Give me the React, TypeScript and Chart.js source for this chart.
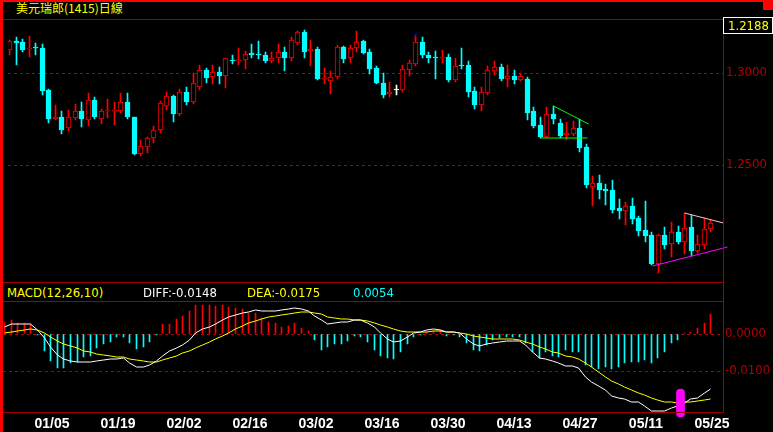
import React, { useEffect, useRef } from 'react';
import { Chart, registerables } from 'chart.js';
Chart.register(...registerables);

// ---------- data ----------
const dates = [
  '12/25','12/26','12/29','12/30','12/31',
  '01/01','01/02','01/05','01/06','01/07','01/08','01/09','01/12','01/13','01/14','01/15','01/16','01/19','01/20','01/21','01/22','01/23','01/26','01/27','01/28','01/29','01/30',
  '02/02','02/03','02/04','02/05','02/06','02/09','02/10','02/11','02/12','02/13','02/16','02/17','02/18','02/19','02/20','02/23','02/24','02/25','02/26','02/27',
  '03/02','03/03','03/04','03/05','03/06','03/09','03/10','03/11','03/12','03/13','03/16','03/17','03/18','03/19','03/20','03/23','03/24','03/25','03/26','03/27','03/30','03/31',
  '04/01','04/02','04/03','04/06','04/07','04/08','04/09','04/10','04/13','04/14','04/15','04/16','04/17','04/20','04/21','04/22','04/23','04/24','04/27','04/28','04/29','04/30',
  '05/01','05/04','05/05','05/06','05/07','05/08','05/11','05/12','05/13','05/14','05/15','05/18','05/19','05/20','05/21','05/22','05/25',
];
const tickDates = ['01/05','01/19','02/02','02/16','03/02','03/16','03/30','04/13','04/27','05/11','05/25'];
const priceTicks = [1.25, 1.3];
const macdTicks = [-0.01, 0];

const openP = [
  1.3125,1.3172,1.3167,1.3130,1.3141,1.3135,1.2906,1.2750,1.2760,1.2703,
  1.2755,1.2797,1.2745,1.2854,1.2750,1.2792,1.2797,1.2797,1.2844,1.2760,
  1.2563,1.2599,1.2646,1.2693,1.2823,1.2875,1.2776,1.2896,1.2844,1.2927,
  1.3016,1.2979,1.3005,1.2984,1.3073,1.3063,1.3068,1.3109,1.3104,1.3099,
  1.3063,1.3083,1.3115,1.3083,1.3161,1.3224,1.3120,1.3130,1.2969,1.2958,
  1.2979,1.3141,1.3083,1.3135,1.3172,1.3115,1.3026,1.2948,1.2885,1.2906,
  1.2906,1.3016,1.3047,1.3167,1.3099,1.3089,1.3083,1.3089,1.2964,1.3042,
  1.3042,1.2901,1.2828,1.2891,1.3010,1.3031,1.2969,1.2984,1.2964,1.2969,
  1.2792,1.2719,1.2656,1.2776,1.2729,1.2667,1.2672,1.2703,1.2599,1.2385,
  1.2406,1.2370,1.2365,1.2271,1.2255,1.2281,1.2214,1.2151,1.2125,1.1964,
  1.2125,1.2073,1.2141,1.2083,1.2167,1.2036,1.2068,1.2156,
];
const highP = [
  1.3177,1.3193,1.3182,1.3203,1.3161,1.3156,1.2911,1.2828,1.2792,1.2802,
  1.2833,1.2844,1.2891,1.2870,1.2807,1.2859,1.2844,1.2891,1.2891,1.2760,
  1.2635,1.2656,1.2714,1.2849,1.2896,1.2880,1.2911,1.2922,1.3000,1.3042,
  1.3026,1.3042,1.3031,1.3083,1.3099,1.3135,1.3120,1.3156,1.3172,1.3115,
  1.3115,1.3156,1.3141,1.3193,1.3229,1.3234,1.3177,1.3141,1.3026,1.3010,
  1.3151,1.3146,1.3151,1.3229,1.3177,1.3130,1.3036,1.3000,1.2953,1.2938,
  1.3042,1.3068,1.3198,1.3193,1.3115,1.3120,1.3125,1.3104,1.3083,1.3135,
  1.3063,1.2922,1.2927,1.3036,1.3063,1.3047,1.3042,1.3016,1.3000,1.2979,
  1.2818,1.2760,1.2818,1.2823,1.2750,1.2734,1.2740,1.2750,1.2615,1.2443,
  1.2448,1.2401,1.2422,1.2318,1.2302,1.2323,1.2224,1.2307,1.2141,1.2130,
  1.2167,1.2193,1.2172,1.2245,1.2234,1.2125,1.2214,1.2203,
];
const lowP = [
  1.3099,1.3042,1.3115,1.3089,1.3099,1.2880,1.2729,1.2745,1.2672,1.2688,
  1.2745,1.2708,1.2714,1.2750,1.2724,1.2755,1.2719,1.2786,1.2750,1.2557,
  1.2552,1.2568,1.2620,1.2677,1.2802,1.2734,1.2766,1.2828,1.2833,1.2906,
  1.2948,1.2943,1.2943,1.2917,1.3047,1.3042,1.3021,1.3083,1.3078,1.3052,
  1.3057,1.3057,1.3010,1.3063,1.3151,1.3083,1.3036,1.2964,1.2943,1.2885,
  1.2969,1.3057,1.3057,1.3115,1.3104,1.2995,1.2943,1.2865,1.2870,1.2880,
  1.2896,1.2984,1.3036,1.3083,1.3057,1.2969,1.3057,1.2953,1.2953,1.3021,
  1.2870,1.2807,1.2797,1.2880,1.2990,1.2958,1.2927,1.2943,1.2958,1.2745,
  1.2703,1.2651,1.2651,1.2724,1.2651,1.2635,1.2661,1.2573,1.2380,1.2281,
  1.2318,1.2286,1.2245,1.2208,1.2177,1.2182,1.2120,1.2083,1.1959,1.1917,
  1.2047,1.2005,1.2073,1.2021,1.2010,1.2026,1.2047,1.2141,
];
const closeP = [
  1.3172,1.3161,1.3125,1.3135,1.3135,1.2901,1.2750,1.2760,1.2693,1.2760,
  1.2797,1.2750,1.2854,1.2760,1.2792,1.2802,1.2802,1.2844,1.2760,1.2563,
  1.2604,1.2646,1.2693,1.2839,1.2875,1.2776,1.2896,1.2844,1.2948,1.3016,
  1.2974,1.3005,1.2984,1.3083,1.3063,1.3073,1.3104,1.3099,1.3099,1.3063,
  1.3083,1.3115,1.3083,1.3177,1.3224,1.3115,1.3130,1.2969,1.2974,1.2979,
  1.3141,1.3078,1.3135,1.3167,1.3109,1.3021,1.2948,1.2880,1.2896,1.2906,
  1.3021,1.3052,1.3167,1.3099,1.3083,1.3083,1.3089,1.2964,1.3036,1.3036,
  1.2896,1.2828,1.2896,1.3016,1.3031,1.2969,1.2984,1.2964,1.2984,1.2786,
  1.2714,1.2656,1.2776,1.2750,1.2661,1.2677,1.2703,1.2594,1.2396,1.2406,
  1.2365,1.2359,1.2260,1.2255,1.2281,1.2208,1.2146,1.2120,1.1964,1.2125,
  1.2068,1.2141,1.2083,1.2161,1.2036,1.2073,1.2156,1.2188,
];

const diffV = [
  0.0020,0.0026,0.0028,0.0028,0.0028,0.0011,-0.0012,-0.0034,-0.0057,-0.0068,
  -0.0072,-0.0075,-0.0076,-0.0075,-0.0073,-0.0071,-0.0068,-0.0067,-0.0065,-0.0079,
  -0.0088,-0.0090,-0.0085,-0.0072,-0.0059,-0.0045,-0.0037,-0.0030,-0.0016,0.0004,
  0.0013,0.0020,0.0028,0.0038,0.0045,0.0051,0.0058,0.0060,0.0064,0.0063,
  0.0063,0.0063,0.0064,0.0068,0.0071,0.0067,0.0063,0.0049,0.0038,0.0027,
  0.0031,0.0032,0.0033,0.0038,0.0038,0.0031,0.0018,0.0002,-0.0014,-0.0021,
  -0.0019,-0.0007,0.0002,0.0006,0.0011,0.0013,0.0011,0.0006,0.0005,0.0002,
  -0.0014,-0.0027,-0.0032,-0.0027,-0.0023,-0.0021,-0.0020,-0.0019,-0.0019,-0.0030,
  -0.0048,-0.0066,-0.0068,-0.0072,-0.0079,-0.0086,-0.0086,-0.0093,-0.0115,-0.0129,
  -0.0141,-0.0151,-0.0167,-0.0174,-0.0176,-0.0183,-0.0184,-0.0195,-0.0207,-0.0207,
  -0.0207,-0.0199,-0.0194,-0.0187,-0.0176,-0.0174,-0.0160,-0.0148,
];
const deaV = [
  0.0002,0.0005,0.0009,0.0011,0.0013,0.0011,0.0002,-0.0007,-0.0018,-0.0027,
  -0.0032,-0.0039,-0.0045,-0.0048,-0.0054,-0.0057,-0.0059,-0.0061,-0.0063,-0.0067,
  -0.0070,-0.0073,-0.0076,-0.0075,-0.0070,-0.0066,-0.0059,-0.0052,-0.0045,-0.0037,
  -0.0030,-0.0021,-0.0014,-0.0005,0.0004,0.0013,0.0022,0.0029,0.0035,0.0040,
  0.0045,0.0049,0.0050,0.0054,0.0058,0.0059,0.0059,0.0058,0.0054,0.0047,
  0.0044,0.0041,0.0040,0.0039,0.0038,0.0034,0.0031,0.0024,0.0018,0.0013,
  0.0009,0.0006,0.0005,0.0005,0.0006,0.0007,0.0007,0.0006,0.0005,0.0004,
  0.0000,-0.0005,-0.0009,-0.0012,-0.0014,-0.0014,-0.0014,-0.0014,-0.0016,-0.0021,
  -0.0027,-0.0034,-0.0041,-0.0048,-0.0052,-0.0059,-0.0063,-0.0068,-0.0079,-0.0090,
  -0.0102,-0.0115,-0.0127,-0.0136,-0.0144,-0.0151,-0.0159,-0.0166,-0.0174,-0.0178,
  -0.0183,-0.0185,-0.0186,-0.0184,-0.0183,-0.0180,-0.0178,-0.0175,
];
const histV = [
  0.0032,0.0038,0.0031,0.0031,0.0027,-0.0003,-0.0047,-0.0073,-0.0091,-0.0091,
  -0.0079,-0.0077,-0.0063,-0.0059,-0.0039,-0.0027,-0.0021,-0.0009,-0.0007,-0.0025,
  -0.0041,-0.0034,-0.0022,-0.0002,0.0026,0.0026,0.0040,0.0049,0.0062,0.0078,
  0.0078,0.0078,0.0076,0.0078,0.0074,0.0069,0.0067,0.0058,0.0056,0.0042,
  0.0033,0.0031,0.0020,0.0022,0.0031,0.0015,0.0009,-0.0016,-0.0043,-0.0034,
  -0.0028,-0.0027,-0.0019,-0.0005,-0.0009,-0.0021,-0.0043,-0.0059,-0.0064,-0.0067,
  -0.0048,-0.0028,-0.0007,-0.0003,0.0006,0.0009,0.0011,-0.0005,-0.0004,-0.0009,
  -0.0025,-0.0043,-0.0045,-0.0030,-0.0016,-0.0012,-0.0009,-0.0007,-0.0007,-0.0025,
  -0.0048,-0.0066,-0.0048,-0.0059,-0.0061,-0.0043,-0.0050,-0.0050,-0.0084,-0.0090,
  -0.0095,-0.0090,-0.0095,-0.0090,-0.0079,-0.0075,-0.0075,-0.0070,-0.0079,-0.0066,
  -0.0048,-0.0025,-0.0016,0.0004,0.0006,0.0015,0.0031,0.0054,
];

// drawn trend lines (index, price)
const greenSlopeLine = [{ x: 82.93, y: 1.2821 }, { x: 88.29, y: 1.2726 }];
const greenFlatLine = [{ x: 81.06, y: 1.2647 }, { x: 88.18, y: 1.2647 }];
const pinkLine = [{ x: 102.93, y: 1.2243 }, { x: 108.99, y: 1.2186 }];
const magentaLine = [{ x: 98.14, y: 1.1957 }, { x: 109.5, y: 1.2056 }];
const blueMark = [{ x: 62, y: 1.3208 }];
// MACD cross marker (index, value range)
const crossMark = [{ x: 102.5, y: [-0.0224, -0.0149] }];

// ---------- styling ----------
const RED = '#ff0000';
const CYAN = '#00ffff';
const WHITE = '#ffffff';
const FRAME = '#a00000';
const GRID = '#b00000';
const NARROW = '"Liberation Sans Narrow", "Arial Narrow", "DejaVu Sans Condensed", "Liberation Sans", sans-serif';
const X_MIN = -0.15;
const X_MAX = 108.94;

// shift dataset drawing by half a pixel so 1px bars land on whole pixels
const crispPlugin = {
  id: 'crisp',
  beforeDatasetsDraw(chart: any) {
    chart.ctx.save();
    chart.ctx.translate(0.5, 0);
  },
  afterDatasetsDraw(chart: any) {
    chart.ctx.restore();
  },
};

export default function App() {
  const refA = useRef<HTMLCanvasElement>(null);
  const refB = useRef<HTMLCanvasElement>(null);

  useEffect(() => {
    document.body.style.margin = '0';
    document.body.style.background = '#000';
    const idx = openP.map((_, i) => i);
    const cColor = idx.map((i) => (closeP[i] > openP[i] ? RED : closeP[i] < openP[i] ? CYAN : WHITE));
    const cFill = idx.map((i) => (closeP[i] > openP[i] ? '#000000' : cColor[i]));

    const fitY = (s: any) => {
      s.width = 50;
      s.paddingTop = 0;
      s.paddingBottom = 0;
    };

    const priceChart = new Chart(refA.current as HTMLCanvasElement, {
      type: 'bar',
      plugins: [crispPlugin],
      data: {
        datasets: [
          { type: 'line', data: greenSlopeLine, borderColor: '#00ff00', borderWidth: 1, pointRadius: 0, order: 0, clip: false } as any,
          { type: 'line', data: greenFlatLine, borderColor: '#00ff00', borderWidth: 1, pointRadius: 0, order: 0, clip: false } as any,
          { type: 'line', data: pinkLine, borderColor: '#ffc4c4', borderWidth: 1, pointRadius: 0, order: 0, clip: false } as any,
          { type: 'line', data: magentaLine, borderColor: '#ff00ff', borderWidth: 1, pointRadius: 0, order: 0, clip: false } as any,
          { type: 'line', data: blueMark, showLine: false, pointRadius: 1, pointStyle: 'rect', backgroundColor: '#0000ff', borderColor: '#0000ff', order: 0 } as any,
          {
            data: idx.map((i) => ({ x: i, y: [openP[i], closeP[i]] })),
            backgroundColor: cFill,
            borderColor: cColor,
            borderWidth: 1,
            borderSkipped: false,
            barThickness: 5,
            minBarLength: 1,
            grouped: false,
            order: 1,
          } as any,
          {
            data: idx.map((i) => ({ x: i, y: [lowP[i], highP[i]] })),
            backgroundColor: cColor,
            borderWidth: 0,
            barThickness: 1,
            grouped: false,
            order: 2,
          } as any,
        ],
      },
      options: {
        responsive: false,
        maintainAspectRatio: false,
        animation: false,
        devicePixelRatio: 1,
        events: [],
        layout: { padding: 0 },
        plugins: { legend: { display: false }, tooltip: { enabled: false } },
        scales: {
          x: { type: 'linear', min: X_MIN, max: X_MAX, offset: false, alignToPixels: true, display: false, grid: { display: false } },
          y: {
            type: 'linear',
            position: 'right',
            min: 1.18958,
            max: 1.32656,
            alignToPixels: true,
            afterBuildTicks: (s: any) => { s.ticks = priceTicks.map((v) => ({ value: v })); },
            afterFit: fitY,
            ticks: { color: GRID, font: { family: NARROW, size: 13 }, padding: 3, callback: (v: any) => Number(v).toFixed(4) },
            grid: { color: GRID, lineWidth: 1, drawTicks: false },
            border: { display: false, dash: [3, 3] },
          },
        },
      } as any,
    });

    const macdChart = new Chart(refB.current as HTMLCanvasElement, {
      type: 'bar',
      plugins: [crispPlugin],
      data: {
        datasets: [
          {
            data: crossMark,
            backgroundColor: '#ff00ff',
            borderWidth: 0,
            barThickness: 8,
            borderRadius: 4,
            borderSkipped: false,
            grouped: false,
            clip: false,
            order: 0,
          } as any,
          { type: 'line', data: idx.map((i) => ({ x: i, y: diffV[i] })), borderColor: WHITE, borderWidth: 1, pointRadius: 0, tension: 0, order: 1 } as any,
          { type: 'line', data: idx.map((i) => ({ x: i, y: deaV[i] })), borderColor: '#ffff00', borderWidth: 1, pointRadius: 0, tension: 0, order: 2 } as any,
          {
            data: idx.map((i) => ({ x: i, y: histV[i] })),
            backgroundColor: idx.map((i) => (histV[i] >= 0 ? RED : CYAN)),
            borderWidth: 0,
            barThickness: 1,
            grouped: false,
            order: 3,
          } as any,
        ],
      },
      options: {
        responsive: false,
        maintainAspectRatio: false,
        animation: false,
        devicePixelRatio: 1,
        events: [],
        layout: { padding: 0 },
        plugins: { legend: { display: false }, tooltip: { enabled: false } },
        scales: {
          x: {
            type: 'linear',
            min: X_MIN,
            max: X_MAX,
            offset: false,
            alignToPixels: true,
            afterBuildTicks: (s: any) => { s.ticks = tickDates.map((d) => ({ value: dates.indexOf(d) })); },
            afterFit: (s: any) => { s.height = 20; s.paddingLeft = 0; s.paddingRight = 0; },
            ticks: {
              color: WHITE,
              font: { family: '"Liberation Sans", Arial, sans-serif', size: 14, weight: 'bold' },
              padding: 4,
              maxRotation: 0,
              autoSkip: false,
              labelOffset: 2,
              callback: (v: any) => dates[Number(v)],
            },
            grid: { display: false, drawTicks: false },
            border: { display: false },
          },
          y: {
            type: 'linear',
            position: 'right',
            min: -0.0210811,
            max: 0.0089189,
            alignToPixels: true,
            afterBuildTicks: (s: any) => { s.ticks = macdTicks.map((v) => ({ value: v })); },
            afterFit: fitY,
            ticks: { color: GRID, font: { family: NARROW, size: 13 }, padding: 2, callback: (v: any) => Number(v).toFixed(4) },
            grid: { color: GRID, lineWidth: 1, drawTicks: false },
            border: { display: false, dash: [3, 3] },
          },
        },
      } as any,
    });

    return () => {
      priceChart.destroy();
      macdChart.destroy();
    };
  }, []);

  const last = closeP.length - 1;
  const abs = (s: React.CSSProperties): React.CSSProperties => ({ position: 'absolute', ...s });
  const legendFont: React.CSSProperties = { fontFamily: NARROW, fontSize: 13, lineHeight: '17px', whiteSpace: 'nowrap' };

  return (
    <div style={{ position: 'relative', width: 773, height: 432, background: '#000', overflow: 'hidden' }}>
      <canvas ref={refA} width={770} height={263} style={abs({ left: 3, top: 19, display: 'block' })} />
      <canvas ref={refB} width={770} height={131} style={abs({ left: 3, top: 301, display: 'block' })} />

      {/* frame lines */}
      <div style={abs({ left: 3, top: 19, width: 720, height: 1, background: FRAME })} />
      <div style={abs({ left: 3, top: 282, width: 720, height: 1, background: FRAME })} />
      <div style={abs({ left: 3, top: 301, width: 720, height: 1, background: FRAME })} />
      <div style={abs({ left: 3, top: 412, width: 720, height: 1, background: FRAME })} />
      <div style={abs({ left: 723, top: 19, width: 1, height: 394, background: FRAME })} />

      {/* title */}
      <div style={abs({ left: 16, top: 0, height: 16, lineHeight: '16px', fontSize: 12, color: '#ffff00', fontFamily: '"Liberation Sans Narrow", "Noto Sans CJK TC", sans-serif', whiteSpace: 'nowrap' })}>
        美元瑞郎(1415)日線
      </div>

      {/* last price box */}
      <div style={abs({ left: 723, top: 17, width: 50, height: 17, boxSizing: 'border-box', border: '1px solid #ffffff', paddingLeft: 4, color: '#ffff00', fontFamily: NARROW, fontSize: 13, lineHeight: '15px' })}>
        {closeP[last].toFixed(4)}
      </div>

      {/* MACD legend */}
      <div style={abs({ left: 7, top: 284, color: '#ffff00', ...legendFont })}>MACD(12,26,10)</div>
      <div style={abs({ left: 143, top: 284, color: '#ffffff', ...legendFont })}>DIFF:{diffV[last].toFixed(4)}</div>
      <div style={abs({ left: 247, top: 284, color: '#ffff00', ...legendFont })}>DEA:{deaV[last].toFixed(4)}</div>
      <div style={abs({ left: 353, top: 284, color: CYAN, ...legendFont })}>{histV[last].toFixed(4)}</div>

      {/* outer red border */}
      <div style={abs({ left: 0, top: 0, width: 773, height: 2, background: '#ff0000' })} />
      <div style={abs({ left: 0, top: 0, width: 3, height: 432, background: '#ff0000' })} />
      <div style={abs({ left: 763, top: 0, width: 10, height: 10, background: '#ff0000' })} />
    </div>
  );
}
